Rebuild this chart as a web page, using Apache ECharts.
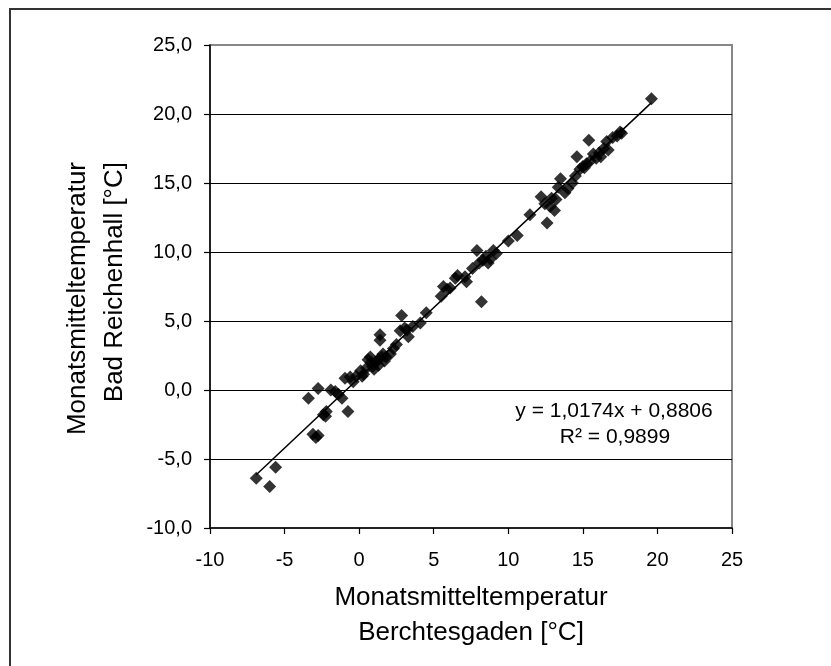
<!DOCTYPE html>
<html>
<head>
<meta charset="utf-8">
<script src="https://cdn.jsdelivr.net/npm/echarts@6/dist/echarts.min.js"></script>
<style>
  html, body { margin: 0; padding: 0; background: #fff; }
  #chart { width: 831px; height: 666px; }
</style>
</head>
<body>
<div id="chart"></div>
<script>
// Monatsmittel Berchtesgaden (x) gegen Bad Reichenhall (y)
var bgX = [-6.9, -6.0, -5.6, -3.4, -3.1, -2.9, -2.75, -2.75, -2.4, -2.2, -2.25, -1.9, -1.6, -1.4, -1.15, -0.95, -0.75, -0.6, -0.4, -0.2,
	0.1, 0.2, 0.3, 0.5, 0.6, 0.75, 0.8, 0.9, 1.0, 1.1, 1.25, 1.3, 1.4, 1.4, 1.5, 1.6, 1.7, 1.8, 2.1, 2.3, 2.5, 2.75, 2.85, 3.05, 3.2, 3.3, 3.6, 4.1, 4.5,
	5.5, 5.65, 5.9, 6.1, 6.45, 6.6, 7.1, 7.2, 7.6, 7.9, 8.05, 8.2, 8.3, 8.5, 8.65, 8.8, 9.0, 9.2, 10.0, 10.6,
	11.45, 12.2, 12.45, 12.6, 12.8, 12.9, 13.1, 13.2, 13.35, 13.5, 13.8, 14.0, 14.3, 14.5, 14.6, 14.8, 15.0, 15.1, 15.25, 15.4, 15.5, 15.7, 15.9, 16.1, 16.2, 16.4, 16.6, 16.7, 17.0, 17.3, 17.5, 17.6, 19.6];
var brY = [-6.4, -7.0, -5.6, -0.6, -3.2, -3.45, -3.3, 0.1, -1.8, -1.55, -1.9, 0.0, -0.1, -0.3, -0.6, 0.85, -1.55, 0.95, 0.6, 1.0,
	1.4, 1.0, 1.15, 1.6, 2.2, 2.4, 2.0, 1.7, 1.5, 2.0, 2.2, 1.8, 3.6, 4.0, 2.4, 2.6, 2.1, 2.4, 2.6, 3.0, 3.3, 4.3, 5.4, 4.5, 4.35, 3.85, 4.6, 4.85, 5.6,
	6.8, 7.5, 7.3, 7.4, 8.1, 8.3, 8.2, 7.85, 8.8, 10.1, 9.2, 6.4, 9.4, 9.7, 9.2, 9.5, 10.1, 9.9, 10.8, 11.2,
	12.7, 14.0, 13.5, 12.1, 13.3, 13.9, 13.0, 13.8, 14.7, 15.3, 14.3, 14.6, 15.0, 15.5, 16.9, 16.0, 16.2, 16.1, 16.4, 18.1, 16.6, 17.1, 16.8, 17.2, 16.9, 17.5, 18.0, 17.4, 18.3, 18.4, 18.7, 18.6, 21.1];

var xTicks = [-10, -5, 0, 5, 10, 15, 20, 25];
var yTicks = [-10, -5, 0, 5, 10, 15, 20, 25];

// lineare Regression wie in der Grafik angegeben
var slope = 1.0174, intercept = 0.8806;
var trendX = [-6.9, 19.6];

var points = bgX.map((x, i) => [x, brY[i]]);
var trend = trendX.map(x => [x, slope * x + intercept]);

var font = '"Liberation Sans", Arial, sans-serif';

var chart = echarts.init(document.getElementById('chart'), null, { renderer: 'canvas' });
chart.setOption({
	animation: false,
	backgroundColor: '#fff',
	grid: {
		left: 210, right: 99, top: 45, bottom: 138,
		show: true, borderColor: '#888', borderWidth: 2, backgroundColor: 'transparent'
	},
	xAxis: {
		type: 'value',
		min: xTicks[0], max: xTicks[xTicks.length - 1], interval: 5,
		axisLine: { show: true, onZero: false, lineStyle: { color: '#000', width: 1.5 } },
		axisTick: { show: true, inside: false, length: 6, lineStyle: { color: '#000', width: 1.2 } },
		axisLabel: { color: '#000', fontFamily: font, fontSize: 20, margin: 22 },
		splitLine: { show: false }
	},
	yAxis: {
		type: 'value',
		min: yTicks[0], max: yTicks[yTicks.length - 1], interval: 5,
		axisLine: { show: true, onZero: false, lineStyle: { color: '#000', width: 1.5 } },
		axisTick: { show: true, inside: false, length: 6, lineStyle: { color: '#000', width: 1.2 } },
		axisLabel: {
			color: '#000', fontFamily: font, fontSize: 20, margin: 18,
			formatter: v => v.toFixed(1).replace('.', ',')
		},
		splitLine: { show: true, showMinLine: false, showMaxLine: false, lineStyle: { color: '#000', width: 1 } }
	},
	series: [
		{
			type: 'scatter',
			data: points,
			symbol: 'diamond',
			symbolSize: 13,
			itemStyle: { color: '#000' },
			z: 3
		},
		{
			type: 'line',
			data: trend,
			showSymbol: false,
			lineStyle: { color: '#000', width: 1.5 },
			z: 4
		}
	],
	graphic: [
		{
			type: 'rect',
			shape: { x: 10, y: 9, width: 900, height: 800 },
			style: { fill: 'none', stroke: '#333', lineWidth: 2 },
			silent: true
		},
		{
			type: 'text', x: 614, y: 411,
			style: { text: 'y = 1,0174x + 0,8806', font: '21px ' + font, fill: '#000', textAlign: 'center', textVerticalAlign: 'middle' }
		},
		{
			type: 'text', x: 615, y: 437,
			style: { text: 'R² = 0,9899', font: '21px ' + font, fill: '#000', textAlign: 'center', textVerticalAlign: 'middle' }
		},
		{
			type: 'text', x: 471, y: 598,
			style: { text: 'Monatsmitteltemperatur', font: '26px ' + font, fill: '#000', textAlign: 'center', textVerticalAlign: 'middle' }
		},
		{
			type: 'text', x: 471, y: 633,
			style: { text: 'Berchtesgaden [°C]', font: '26px ' + font, fill: '#000', textAlign: 'center', textVerticalAlign: 'middle' }
		},
		{
			type: 'text', x: 78, y: 162, rotation: Math.PI / 2,
			style: { text: 'Monatsmitteltemperatur', font: '26px ' + font, fill: '#000', textAlign: 'right', textVerticalAlign: 'middle' }
		},
		{
			type: 'text', x: 115, y: 162, rotation: Math.PI / 2,
			style: { text: 'Bad Reichenhall [°C]', font: '26px ' + font, fill: '#000', textAlign: 'right', textVerticalAlign: 'middle' }
		}
	]
});
</script>
</body>
</html>
